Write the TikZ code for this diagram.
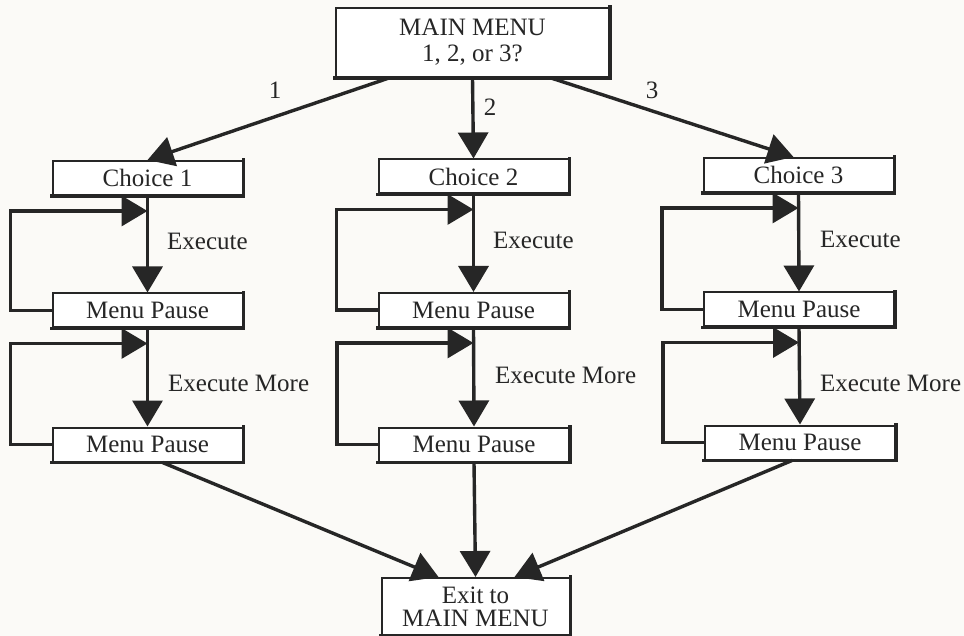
\documentclass[tikz,border=0pt]{standalone}
\usepackage{fontspec}
\setmainfont{Liberation Serif}
\usetikzlibrary{arrows.meta,calc}

\definecolor{ink}{HTML}{262626}
\definecolor{txt}{HTML}{262626}
\definecolor{paper}{HTML}{FBFAF7}

\tikzset{
  box/.style={draw=ink, line width=2pt, fill=white, inner sep=0pt,
    minimum width=190pt, minimum height=34pt, text=txt,
    font=\fontsize{25}{26}\selectfont, align=center},
  heavyedge/.style={draw=ink, line width=3.8pt, line cap=rect},
  bigtip/.tip={Triangle[length=26pt 0 0, width=30pt 0 0]},
  conn/.style={draw=ink, line width=3.4pt, -bigtip},
  lbl/.style={text=txt, font=\fontsize{25}{26}\selectfont, inner sep=0pt}
}

\begin{document}
\begin{tikzpicture}[x=1pt,y=-1pt]
  % page
  \fill[paper] (0,0) rectangle (964,636);
  \useasboundingbox (0,0) rectangle (964,636);

  % boxes
  \node[box, minimum width=273pt, minimum height=69pt] (main) at (472.5,42.5)
    {MAIN MENU\\1, 2, or 3?};

  \node[box] (c1) at (147.5,178) {Choice 1};
  \node[box] (c2) at (473.5,176.5) {Choice 2};
  \node[box] (c3) at (798.5,175) {Choice 3};

  \node[box] (p1a) at (147.5,310.5) {Menu Pause};
  \node[box] (p2a) at (473.5,310) {Menu Pause};
  \node[box] (p3a) at (799,309.5) {Menu Pause};

  \node[box] (p1b) at (147.5,444.5) {Menu Pause};
  \node[box] (p2b) at (474,444.5) {Menu Pause};
  \node[box] (p3b) at (800,442.5) {Menu Pause};

  \node[box, minimum width=188pt, minimum height=57pt,
        font=\fontsize{25}{23}\selectfont] (exit) at (475.5,606.5)
    {Exit to\\MAIN MENU};

  % heavier right and bottom sides of each box
  \foreach \n in {main,c1,c2,c3,p1a,p2a,p3a,p1b,p2b,p3b,exit}
    \draw[heavyedge] (\n.north east) -- (\n.south east) -- (\n.south west);

  % main menu branches
  \draw[conn] ($(main.south west)+(54,0)$) -- (c1.north);
  \draw[conn] (main.south) -- (c2.north);
  \draw[conn] ($(main.south east)+(-59,0)$) -- ($(c3.north)+(-5,0)$);
  \node[lbl] (n1) at (275,90) {1};
  \node[lbl] (n2) at (490,107) {2};
  \node[lbl] (n3) at (652,90) {3};

  % columns: execute, pause, loop back
  \foreach \c/\p/\q in {c1/p1a/p1b, c2/p2a/p2b, c3/p3a/p3b} {
    \draw[conn] (\c.south) -- (\p.north);
    \draw[conn] (\p.south) -- (\q.north);
    \draw[conn] (\p.west) -- ++(-41,0) |- ($(\c.south)+(0,15)$);
    \draw[conn] (\q.west) -- ++(-41,0) |- ($(\p.south)+(0,15)$);
  }

  \node[lbl, anchor=west] (e1) at (167,241) {Execute};
  \node[lbl, anchor=west] (e2) at (493,240) {Execute};
  \node[lbl, anchor=west] (e3) at (820,239) {Execute};
  \node[lbl, anchor=west] (m1) at (168,383) {Execute More};
  \node[lbl, anchor=west] (m2) at (495,375) {Execute More};
  \node[lbl, anchor=west] (m3) at (820,383) {Execute More};

  % return to main menu
  \draw[conn] ($(p1b.south)+(15,0)$) -- ($(exit.north west)+(58,0)$);
  \draw[conn] (p2b.south) -- (exit.north);
  \draw[conn] ($(p3b.south)+(-8,0)$) -- ($(exit.north east)+(-56,0)$);
\end{tikzpicture}
\end{document}
